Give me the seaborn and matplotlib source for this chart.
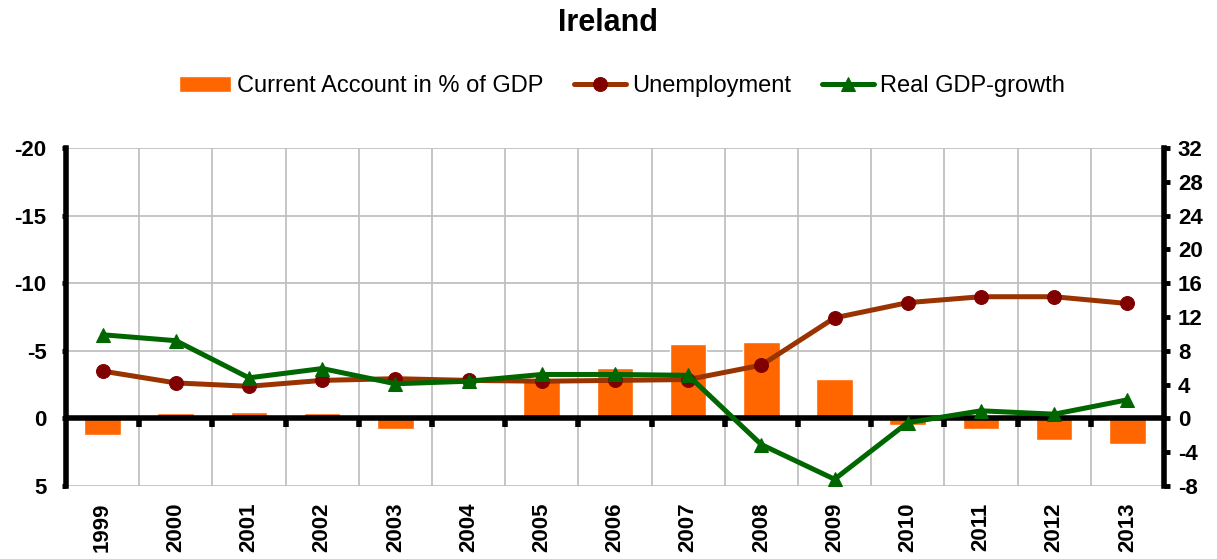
import matplotlib
matplotlib.use("Agg")
import matplotlib.pyplot as plt
import numpy as np
import pandas as pd
import seaborn as sns

years = ["1999", "2000", "2001", "2002", "2003", "2004", "2005", "2006",
         "2007", "2008", "2009", "2010", "2011", "2012", "2013"]
current_account = [1.2, -0.4, -0.5, -0.4, 0.8, -0.1, -3.0, -3.7,
                   -5.5, -5.65, -2.9, 0.5, 0.8, 1.6, 1.9]
unemployment = [5.6, 4.2, 3.8, 4.5, 4.7, 4.5, 4.4, 4.5,
                4.6, 6.3, 11.9, 13.7, 14.4, 14.4, 13.6]
gdp_growth = [9.9, 9.2, 4.8, 5.9, 4.1, 4.4, 5.2, 5.2,
              5.1, -3.1, -7.2, -0.5, 0.9, 0.5, 2.2]

left_ticks = [-20, -15, -10, -5, 0, 5]
right_ticks = list(range(-8, 33, 4))

ORANGE = "#FF6600"
BROWN = "#993300"
DARK_RED = "#800000"
GREEN = "#006600"
GRID = "#C0C0C0"

sns.set_style("white")
plt.rcParams["font.family"] = ["Liberation Sans", "DejaVu Sans"]
plt.rcParams.update({"text.color": "black", "axes.labelcolor": "black",
                     "xtick.color": "black", "ytick.color": "black"})

df = pd.DataFrame({"year": years, "ca": current_account,
                   "unemp": unemployment, "gdp": gdp_growth})
pos = np.arange(len(years))

fig = plt.figure(figsize=(12.17, 5.59), dpi=100)
ax = fig.add_axes([0.0542, 0.1306, 0.9022, 0.6046])

sns.barplot(data=df, x="year", y="ca", color=ORANGE, saturation=1,
            width=0.5, ax=ax, label="Current Account in % of GDP", zorder=2)
ax.set_xlim(-0.5, len(years) - 0.5)
ax.set_ylim(5, -20)
ax.set_yticks(left_ticks)
ax.set_yticklabels([str(t) for t in left_ticks], fontsize=16, fontweight="bold")
ax.set_xlabel("")
ax.set_ylabel("")

# grid: horizontal at left ticks, vertical at category boundaries
for t in left_ticks:
    ax.axhline(t, color=GRID, lw=1.3, zorder=0)
for b in pos[:-1] + 0.5:
    ax.axvline(b, color=GRID, lw=1.3, zorder=0)

ax.axhline(0, color="black", lw=4, zorder=3)
ax.plot(pos[:-1] + 0.5, np.zeros(len(pos) - 1), linestyle="none",
        marker=3, markersize=6.5, markeredgewidth=4, color="black", zorder=3)

ax.set_xticks(pos)
ax.set_xticklabels(years, rotation=90, fontsize=16, fontweight="bold")
ax.tick_params(axis="x", length=0, pad=12)
ax.tick_params(axis="y", direction="out", length=3, width=3.5, pad=11)
for side in ["top", "bottom"]:
    ax.spines[side].set_visible(False)
ax.spines["left"].set_linewidth(4)
ax.spines["left"].set_color("black")
ax.spines["right"].set_visible(False)

ax2 = ax.twinx()
sns.lineplot(x=pos, y=unemployment, ax=ax2, color=BROWN, lw=3.6,
             marker="o", markersize=10, markerfacecolor=DARK_RED,
             markeredgecolor=DARK_RED, label="Unemployment", zorder=4)
sns.lineplot(x=pos, y=gdp_growth, ax=ax2, color=GREEN, lw=3.6,
             marker="^", markersize=10, markerfacecolor=GREEN,
             markeredgecolor=GREEN, label="Real GDP-growth", zorder=5)
ax2.set_ylim(-8, 32)
ax2.set_yticks(right_ticks)
ax2.set_yticklabels([str(t) for t in right_ticks], fontsize=16, fontweight="bold")
ax2.tick_params(axis="y", direction="out", length=4, width=3.5, pad=6)
ax2.set_ylabel("")
for side in ["top", "bottom", "left"]:
    ax2.spines[side].set_visible(False)
ax2.spines["right"].set_linewidth(4)
ax2.spines["right"].set_color("black")
ax2.set_xlim(-0.5, len(years) - 0.5)

h1, l1 = ax.get_legend_handles_labels()
h2, l2 = ax2.get_legend_handles_labels()
if ax2.get_legend():
    ax2.get_legend().remove()
if ax.get_legend():
    ax.get_legend().remove()
fig.legend(h1 + h2, l1 + l2, loc="center", bbox_to_anchor=(0.511, 0.846),
           ncol=3, frameon=False, fontsize=17, handlelength=2.2,
           handletextpad=0.25, columnspacing=1.3)

fig.suptitle("Ireland", fontsize=22, fontweight="bold", y=0.958, va="center")

fig.savefig("out.png", dpi=100)
